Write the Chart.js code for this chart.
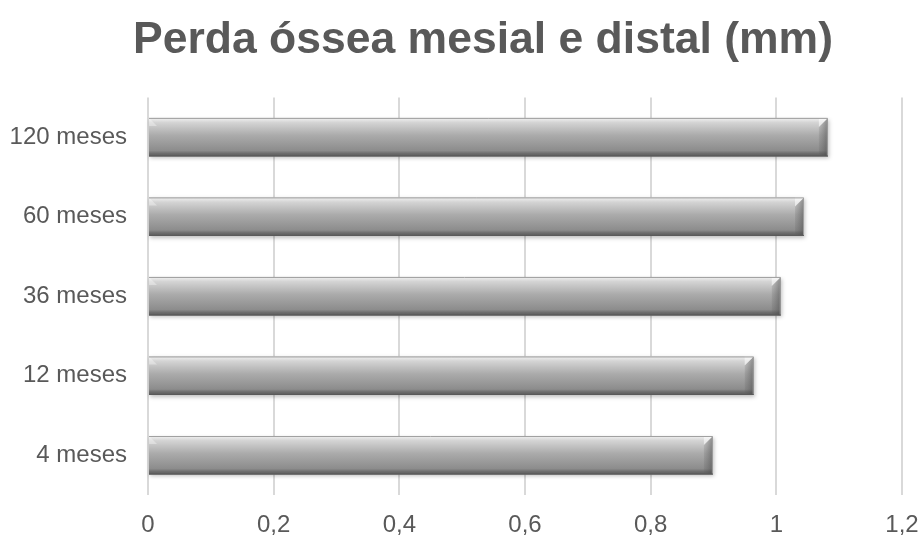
<!DOCTYPE html>
<html>
<head>
<meta charset="utf-8">
<script src="https://cdn.jsdelivr.net/npm/chart.js@4/dist/chart.umd.min.js"></script>
<style>
  html, body { margin: 0; padding: 0; background: #fff; }
  #wrap { width: 920px; height: 539px; position: relative; }
</style>
</head>
<body>
<div id="wrap"><canvas id="myChart"></canvas></div>
<script>
// data
var categories = ["120 meses", "60 meses", "36 meses", "12 meses", "4 meses"];
var values = [1.082, 1.044, 1.007, 0.964, 0.899];
var xTicks = [0, 0.2, 0.4, 0.6, 0.8, 1, 1.2];

var textColor = '#595959';
var fontFamily = '"Liberation Sans", Arial, sans-serif';

// paints each bar with the grey bevelled look of the original
var bevelBars = {
  id: 'bevelBars',
  afterLayout: function (chart) {
    // the original title sits a bit right of the canvas centre
    if (chart.titleBlock) chart.titleBlock.left += 64;
  },
  afterDatasetsDraw: function (chart) {
    var ctx = chart.ctx;
    var meta = chart.getDatasetMeta(0);
    meta.data.forEach(function (bar) {
      var left = bar.base, right = bar.x;
      var top = bar.y - bar.height / 2, bottom = bar.y + bar.height / 2;
      var h = bottom - top;
      ctx.save();

      // soft shadow
      ctx.shadowColor = 'rgba(0,0,0,0.25)';
      ctx.shadowBlur = 4;
      ctx.shadowOffsetX = 1;
      ctx.shadowOffsetY = 2;
      ctx.fillStyle = '#9a9a9a';
      ctx.fillRect(left, top, right - left, h);
      ctx.shadowColor = 'transparent';

      var g = ctx.createLinearGradient(0, top, 0, bottom);
      g.addColorStop(0, '#f2f2f2');
      g.addColorStop(0.12, '#d4d4d4');
      g.addColorStop(0.45, '#ababab');
      g.addColorStop(0.85, '#8c8c8c');
      g.addColorStop(0.92, '#6e6e6e');
      g.addColorStop(1, '#5a5a5a');
      ctx.fillStyle = g;
      ctx.fillRect(left, top, right - left, h);

      // left bevel
      ctx.fillStyle = 'rgba(255,255,255,0.35)';
      ctx.beginPath();
      ctx.moveTo(left, top);
      ctx.lineTo(left + 8, top + 8);
      ctx.lineTo(left, top + 8);
      ctx.closePath();
      ctx.fill();

      // right bevel: dark strip with light top corner
      var cap = 9;
      var gs = ctx.createLinearGradient(right - cap, 0, right, 0);
      gs.addColorStop(0, 'rgba(90,90,90,0.15)');
      gs.addColorStop(1, 'rgba(70,70,70,0.55)');
      ctx.fillStyle = gs;
      ctx.beginPath();
      ctx.moveTo(right - cap, top + cap);
      ctx.lineTo(right, top);
      ctx.lineTo(right, bottom);
      ctx.lineTo(right - cap, bottom - 2);
      ctx.closePath();
      ctx.fill();

      ctx.fillStyle = 'rgba(255,255,255,0.55)';
      ctx.beginPath();
      ctx.moveTo(right - cap, top);
      ctx.lineTo(right, top);
      ctx.lineTo(right - cap, top + cap);
      ctx.closePath();
      ctx.fill();

      // outline
      ctx.strokeStyle = '#a0a0a0';
      ctx.lineWidth = 1;
      ctx.beginPath();
      ctx.moveTo(left, top + 0.5);
      ctx.lineTo(right - 0.5, top + 0.5);
      ctx.lineTo(right - 0.5, bottom);
      ctx.stroke();
      ctx.strokeStyle = '#5a5a5a';
      ctx.beginPath();
      ctx.moveTo(left, bottom - 0.5);
      ctx.lineTo(right, bottom - 0.5);
      ctx.stroke();

      ctx.restore();
    });
  }
};

var ctx = document.getElementById('myChart').getContext('2d');
var chart = new Chart(ctx, {
  type: 'bar',
  data: {
    labels: categories,
    datasets: [{
      label: 'Perda óssea',
      data: values,
      backgroundColor: 'rgba(0,0,0,0)',
      borderWidth: 0,
      barPercentage: 0.484,
      categoryPercentage: 1
    }]
  },
  options: {
    indexAxis: 'y',
    responsive: true,
    maintainAspectRatio: false,
    animation: false,
    layout: { padding: { left: 0, right: 18, top: 0, bottom: 0 } },
    plugins: {
      legend: { display: false },
      tooltip: { enabled: false },
      title: {
        display: true,
        text: 'Perda óssea mesial e distal (mm)',
        color: textColor,
        font: { family: fontFamily, size: 44.5, weight: 'bold', lineHeight: 1.2 },
        padding: { top: 14, bottom: 30 }
      }
    },
    scales: {
      x: {
        min: 0,
        max: 1.2,
        afterBuildTicks: function (axis) {
          axis.ticks = xTicks.map(function (v) { return { value: v }; });
        },
        afterFit: function (axis) {
          axis.height = 44;
          axis.paddingLeft = 0;
          axis.paddingRight = 0;
        },
        grid: { color: '#d9d9d9', lineWidth: 2, drawTicks: false },
        border: { display: false },
        ticks: {
          color: textColor,
          padding: 16,
          maxRotation: 0,
          font: { family: fontFamily, size: 24 },
          callback: function (v) { return String(Math.round(v * 10) / 10).replace('.', ','); }
        }
      },
      y: {
        afterFit: function (axis) { axis.width = 148; },
        grid: { display: false, drawTicks: false },
        border: { display: false },
        ticks: {
          color: textColor,
          padding: 21,
          font: { family: fontFamily, size: 24 }
        }
      }
    }
  },
  plugins: [bevelBars]
});
</script>
</body>
</html>
